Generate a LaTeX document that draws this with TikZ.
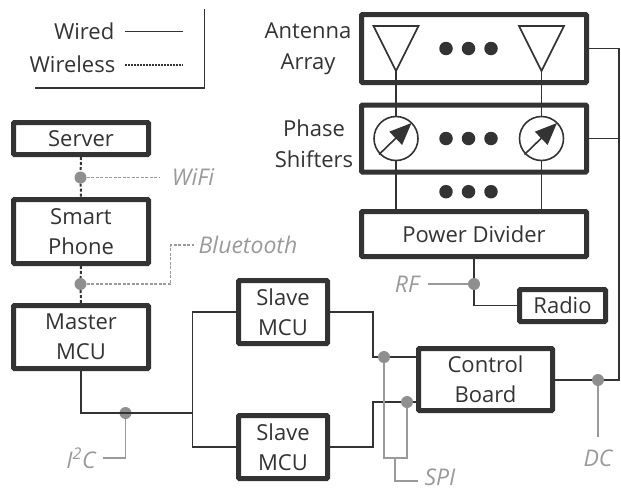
\documentclass[tikz,border=0pt]{standalone}
\usepackage{fontspec}
\setmainfont{Open Sans}
\usetikzlibrary{arrows.meta,calc}
\definecolor{ink}{HTML}{333333}
\definecolor{soft}{HTML}{9A9A9A}
\definecolor{jn}{HTML}{8F8F8F}
\tikzset{
  boxb/.style={draw=ink,line width=5pt,rounded corners=1pt,fill=white,inner sep=0pt,align=center,text=ink,font=\fontsize{22}{30}\selectfont},
  txt/.style={text=ink,font=\fontsize{22}{31}\selectfont,align=center,inner sep=0pt},
  gtxt/.style={text=soft,font=\fontsize{23}{26}\selectfont\itshape,inner sep=0pt},
  wire/.style={draw=ink,line width=1.8pt},
  gwire/.style={draw=soft,line width=1.6pt},
  dwire/.style={draw=ink,line width=2pt,dash pattern=on 3pt off 2pt},
  gdash/.style={draw=soft,line width=1.5pt,dash pattern=on 3pt off 1.5pt},
  jdot/.style={circle,fill=jn,minimum size=12pt,inner sep=0pt},
  bdot/.style={circle,fill=ink,minimum size=13.5pt,inner sep=0pt},
  ant/.style={draw=ink,line width=1.6pt,miter limit=10},
  phase/.style={circle,draw=ink,line width=1.6pt,minimum size=44pt,inner sep=0pt,fill=white},
}
\begin{document}
\begin{tikzpicture}[x=1pt,y=-1pt]
\useasboundingbox (0,0) rectangle (621,490);
% boxes
\node[boxb,minimum width=135pt,minimum height=32pt] (server) at (81,138.5) {Server};
\node[boxb,minimum width=135pt,minimum height=64pt] (phone) at (81,231.5) {Smart\\Phone};
\node[boxb,minimum width=135pt,minimum height=63pt] (master) at (81,337) {Master\\MCU};
\node[boxb,minimum width=89pt,minimum height=63pt] (slaveA) at (283,312) {Slave\\MCU};
\node[boxb,minimum width=89pt,minimum height=63pt] (slaveB) at (283,447) {Slave\\MCU};
\node[boxb,minimum width=134pt,minimum height=62pt] (ctrl) at (485.5,379.5) {Control\\Board};
\node[boxb,minimum width=86pt,minimum height=32pt] (radio) at (562.5,305.5) {Radio};
\node[boxb,minimum width=225pt,minimum height=45pt] (pd) at (474,234) {Power Divider};
\node[boxb,minimum width=225pt,minimum height=67pt] (ps) at (474,138.5) {};
\node[boxb,minimum width=225pt,minimum height=68pt] (aa) at (474,48.5) {};
% labels
\node[txt] (laa) at (308,48.5) {Antenna\\Array};
\node[txt] (lps) at (314,143.5) {Phase\\Shifters};
% antennas and phase shifters
\coordinate (apexL) at (396,71);
\coordinate (apexR) at (541.5,71);
\node[phase] (phiL) at (396,138.5) {};
\node[phase] (phiR) at (541.5,138.5) {};
\draw[wire] (apexL) -- (phiL.north);
\draw[wire] (apexR) -- (phiR.north);
\draw[wire] (phiL.south) -- (phiL.south |- pd.north);
\draw[wire] (phiR.south) -- (phiR.south |- pd.north);
\draw[ant] (apexL) -- ++(-22.5,-45) -- ++(45,0) -- cycle;
\draw[ant] (apexR) -- ++(-22.5,-45) -- ++(45,0) -- cycle;
\foreach \c in {phiL,phiR}{
  \draw[draw=ink,line width=1.6pt,-{Triangle[length=22pt,width=18pt]}] ($(\c)+(-17,16)$) -- ($(\c)+(15.5,-15.5)$);
}
\foreach \n/\y in {a/48.5,b/138.5,c/191.7}{
  \node[bdot] (d1\n) at (446,\y) {};
  \node[bdot] (d2\n) at (468.5,\y) {};
  \node[bdot] (d3\n) at (491,\y) {};
}
% control wires
\coordinate (rail) at (619,380);
\draw[wire] (aa.east) -| (rail) -- (ctrl.east |- rail);
\draw[wire] (ps.east) -- (ps.east -| rail);
\node[jdot] (jdc) at (598,380) {};
\coordinate (dcend) at (598,437);
\draw[gwire] (jdc) -- (dcend);
\node[gtxt] (ldc) at (598,458) {DC};
% RF
\node[jdot] (jrf) at (474,284) {};
\draw[wire] (pd.south -| jrf) -- (jrf);
\draw[wire] (jrf) |- (radio.west);
\node[gtxt] (lrf) at (407,284) {RF};
\coordinate (rfend) at (428,284);
\draw[gwire] (rfend) -- (jrf);
% SPI
\coordinate (busA) at (373,357);
\coordinate (busB) at (373,402);
\draw[wire] (slaveA.east) -| (busA) -- (ctrl.west |- busA);
\draw[wire] (slaveB.east) -| (busB) -- (ctrl.west |- busB);
\node[jdot] (jsa) at (384,357) {};
\node[jdot] (jsb) at (407,402) {};
\coordinate (spiL) at (384,458);
\coordinate (spiR) at (407,458);
\coordinate (spiM) at (395,458);
\coordinate (spiE) at (418,481);
\draw[gwire] (jsa) -- (spiL) -- (spiR) -- (jsb);
\draw[gwire] (spiM) |- (spiE);
\node[gtxt] (lspi) at (440,477.5) {SPI};
% I2C
\coordinate (i2cbus) at (192.5,413);
\node[jdot] (ji2c) at (125.5,413) {};
\draw[wire] (master.south) |- (i2cbus);
\draw[wire] (slaveA.west) -| (i2cbus);
\draw[wire] (slaveB.west) -| (i2cbus);
\coordinate (i2cE) at (103,458);
\draw[gwire] (ji2c) |- (i2cE);
\node[gtxt] (li2c) at (81,458) {I\textsuperscript{2}C};
% wireless
\node[jdot] (jwifi) at (80.5,177.5) {};
\node[jdot] (jbt) at (80.5,284) {};
\draw[dwire] (server.south) -- (jwifi);
\draw[dwire] (jwifi) -- (phone.north);
\draw[dwire] (phone.south) -- (jbt);
\draw[dwire] (jbt) -- (master.north);
\coordinate (wifiE) at (160,177.5);
\coordinate (btE) at (194,245);
\coordinate (btC) at (170.7,284);
\draw[gdash] (jwifi) -- (wifiE);
\draw[gdash] (jbt) -- (btC) |- (btE);
\node[gtxt] (lwifi) at (193,177.5) {WiFi};
\node[gtxt] (lbt) at (248,245) {Bluetooth};
% legend
\coordinate (lgA) at (204.5,9);
\coordinate (lgB) at (204.5,88);
\coordinate (lgC) at (35,88);
\draw[draw=ink,line width=1.6pt] (lgA) -- (lgB) -- (lgC);
\node[txt,anchor=east] (lw) at (114.5,31) {Wired};
\node[txt,anchor=east] (lwl) at (115.5,64.5) {Wireless};
\coordinate (w1a) at (125,31.5);
\coordinate (w1b) at (183,31.5);
\coordinate (w2a) at (125,65);
\coordinate (w2b) at (183,65);
\draw[wire] (w1a) -- (w1b);
\draw[draw=ink,line width=1.6pt,dash pattern=on 2pt off 1pt] (w2a) -- (w2b);
\end{tikzpicture}
\end{document}
